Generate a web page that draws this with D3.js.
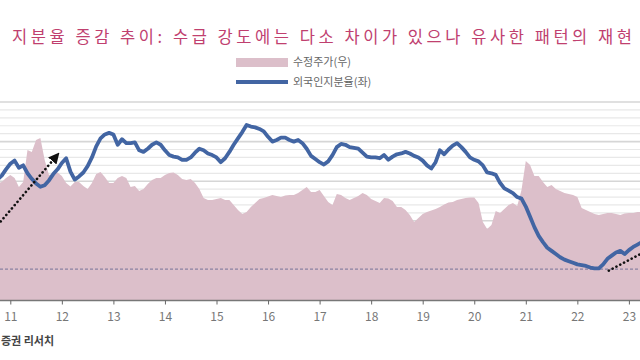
<!DOCTYPE html>
<html>
<head>
<meta charset="utf-8">
<script src="https://cdn.jsdelivr.net/npm/d3@7"></script>
<style>
  body { margin: 0; background: #fff; }
  svg { display: block; }
  text { font-family: "Noto Sans CJK KR", "Noto Sans", sans-serif; }
</style>
</head>
<body>
<svg id="chart" width="640" height="360"></svg>
<script>
// monthly observations starting Oct 2010
const startYear = 2010.75;

// 외국인지분율(좌), %
const foreignShare = [
  35.2, 35.7, 36.5, 37.2, 37.6, 36.7, 37.0, 36.0, 35.3, 34.7, 34.3, 34.5,
  35.1, 35.9, 36.5, 37.3, 37.9, 36.2, 35.2, 35.6, 36.1, 36.9, 38.0, 39.4,
  40.4, 40.9, 41.1, 40.9, 39.6, 40.3, 39.8, 39.8, 39.9, 38.9, 38.7, 39.1,
  39.6, 39.9, 39.6, 38.9, 38.3, 38.1, 38.0, 37.7, 37.7, 38.0, 38.6, 39.1,
  38.9, 38.5, 38.3, 38.0, 37.4, 37.9, 38.7, 39.6, 40.4, 41.2, 42.1, 41.9,
  41.8, 41.6, 41.3, 40.6, 40.0, 40.2, 40.5, 40.5, 40.2, 40.0, 40.2, 39.8,
  39.1, 38.2, 37.8, 37.4, 37.1, 37.5, 38.3, 39.3, 39.7, 39.6, 39.3, 39.2,
  39.1, 38.6, 38.1, 38.0, 38.0, 37.9, 38.3, 37.7, 38.1, 38.4, 38.5, 38.7,
  38.5, 38.2, 38.0, 37.6, 37.0, 36.6, 37.4, 38.9, 38.4, 39.0, 39.5, 39.8,
  39.3, 38.7, 38.0, 37.7, 37.5, 37.0, 36.1, 36.0, 35.8, 34.8, 34.1, 33.8,
  33.5, 33.0, 32.8, 31.8, 30.5, 29.2, 28.1, 27.3, 26.6, 26.2, 25.8, 25.4,
  25.1, 24.9, 24.7, 24.5, 24.4, 24.3, 24.1, 24.0, 24.0, 24.5, 25.2, 25.6,
  26.0, 26.2, 25.8, 26.3, 26.7, 27.0, 27.3
];

// 수정주가(우), index
const adjPrice = [
  59.1, 59.6, 61.6, 63.1, 61.6, 57.1, 59.6, 75.8, 74.7, 80.8, 81.8, 70.7,
  63.1, 63.6, 64.4, 62.6, 59.1, 57.3, 59.6, 59.6, 57.6, 56.1, 59.1, 63.6,
  64.6, 62.1, 59.1, 59.1, 61.6, 62.6, 61.6, 57.1, 57.6, 55.0, 56.1, 58.6,
  60.6, 61.6, 61.6, 63.1, 64.1, 64.4, 63.1, 61.1, 60.6, 61.1, 59.1, 56.1,
  51.5, 50.5, 50.5, 51.0, 51.5, 50.5, 50.5, 48.0, 45.5, 43.4, 44.4, 47.0,
  49.0, 51.0, 51.5, 52.3, 53.0, 52.5, 52.0, 52.8, 53.0, 53.0, 54.0, 55.6,
  57.1, 54.5, 54.5, 55.6, 52.5, 49.5, 48.0, 53.5, 53.0, 51.5, 50.5, 51.5,
  52.5, 54.0, 53.0, 51.0, 50.0, 49.0, 51.5, 51.3, 50.0, 47.0, 47.0, 45.5,
  42.9, 39.4, 41.4, 43.4, 44.4, 45.2, 46.0, 47.0, 48.2, 49.2, 49.5, 50.5,
  51.0, 51.5, 51.8, 51.8, 49.0, 39.4, 35.9, 37.9, 44.9, 43.9, 46.0, 48.0,
  49.0, 47.5, 55.6, 70.2, 68.2, 62.6, 62.6, 59.6, 57.1, 58.1, 56.1, 55.0,
  54.0, 53.5, 53.0, 52.0, 46.5, 45.5, 44.4, 43.4, 42.9, 43.4, 43.9, 43.9,
  43.4, 42.9, 43.7, 43.9, 43.9, 44.4, 44.4
];

const yearTicks = [2011, 2012, 2013, 2014, 2015, 2016, 2017, 2018, 2019, 2020, 2021, 2022, 2023];
const baseLevel = 23.9;
const arrowEarly = [[2010.76, 29.5], [2011.925, 38.4]];
const arrowRecent = [[2022.61, 23.7], [2023.6, 27.1]];

const svg = d3.select("#chart");

var x = d3.scaleLinear().domain([2011, 2023]).range([10.3, 628.9]),
    yL = d3.scaleLinear().domain([20, 45]).range([300, 102]),
    yR = d3.scaleLinear().domain([0, 100]).range([300, 102]);

const dates = foreignShare.map(function(d, i) { return startYear + i / 12; });

// title
svg.append("text")
    .attr("x", 12)
    .attr("y", 43)
    .attr("textLength", 620)
    .attr("lengthAdjust", "spacing")
    .attr("font-size", 16.5)
    .attr("fill", "#c0406f")
    .text("지분율 증감 추이: 수급 강도에는 다소 차이가 있으나 유사한 패턴의 재현");

// legend
var lg = svg.append("g").attr("font-size", 11).attr("fill", "#666");
lg.append("rect").attr("x", 236).attr("y", 58).attr("width", 52).attr("height", 9).attr("fill", "#dcbfca");
lg.append("text").attr("x", 293).attr("y", 66).text("수정주가(우)");
lg.append("line").attr("x1", 236).attr("x2", 288).attr("y1", 82).attr("y2", 82)
    .attr("stroke", "#4265a3").attr("stroke-width", 4);
lg.append("text").attr("x", 293).attr("y", 86).text("외국인지분율(좌)");

// gridlines
svg.append("g").selectAll("line")
    .data(d3.range(20, 46))
    .enter().append("line")
    .attr("x1", 0).attr("x2", 640)
    .attr("y1", function(d) { return yL(d); })
    .attr("y2", function(d) { return yL(d); })
    .attr("stroke", function(d) { return d % 5 === 0 ? "#d6d6d6" : "#e8e8e8"; })
    .attr("stroke-width", function(d) { return d % 5 === 0 ? 1.6 : 1.2; });

// price area
var area = d3.area()
    .x(function(d, i) { return x(dates[i]); })
    .y0(yR(0))
    .y1(function(d) { return yR(d); });

svg.append("path")
    .datum(adjPrice)
    .attr("d", area)
    .attr("fill", "#dcbfca");

// base level dashed line
svg.append("line")
    .attr("x1", 0).attr("x2", 640)
    .attr("y1", yL(baseLevel)).attr("y2", yL(baseLevel))
    .attr("stroke", "#8a82a2")
    .attr("stroke-width", 1.4)
    .attr("stroke-dasharray", "3,2");

// foreign ownership line
var line = d3.line()
    .x(function(d, i) { return x(dates[i]); })
    .y(function(d) { return yL(d); });

svg.append("path")
    .datum(foreignShare)
    .attr("d", line)
    .attr("fill", "none")
    .attr("stroke", "#4265a3")
    .attr("stroke-width", 3.8)
    .attr("stroke-linejoin", "round");

// dotted arrows
svg.append("defs").append("marker")
    .attr("id", "head")
    .attr("viewBox", "0 0 10 10")
    .attr("refX", 8).attr("refY", 5)
    .attr("markerWidth", 11).attr("markerHeight", 11)
    .attr("markerUnits", "userSpaceOnUse")
    .attr("orient", "auto")
    .append("path").attr("d", "M0,0L10,5L0,10z").attr("fill", "#111");

var arrowLine = d3.line()
    .x(function(d) { return x(d[0]); })
    .y(function(d) { return yL(d[1]); });

svg.append("path")
    .datum(arrowEarly)
    .attr("d", arrowLine)
    .attr("fill", "none")
    .attr("stroke", "#111")
    .attr("stroke-width", 2.6)
    .attr("stroke-linecap", "round")
    .attr("stroke-dasharray", "0.1,4.2")
    .attr("marker-end", "url(#head)");

svg.append("path")
    .datum(arrowRecent)
    .attr("d", arrowLine)
    .attr("fill", "none")
    .attr("stroke", "#111")
    .attr("stroke-width", 2.6)
    .attr("stroke-linecap", "round")
    .attr("stroke-dasharray", "0.1,4.2");

// x axis
var xAxis = svg.append("g")
    .attr("transform", "translate(0,300.5)")
    .call(d3.axisBottom(x)
        .tickValues(yearTicks)
        .tickSize(4)
        .tickFormat(function(d) { return String(d).slice(2); }));

xAxis.select(".domain").attr("stroke", "#777").attr("stroke-width", 1.5).attr("d", "M0,0H640");
xAxis.selectAll(".tick line").attr("stroke", "#666");
xAxis.selectAll(".tick text")
    .attr("y", 12)
    .attr("font-size", 12)
    .attr("font-family", "Noto Sans, sans-serif")
    .attr("fill", "#777");

// source
svg.append("text")
    .attr("x", 1)
    .attr("y", 345)
    .attr("font-size", 11)
    .attr("font-weight", "bold")
    .attr("fill", "#444")
    .text("증권 리서치");
</script>
</body>
</html>
